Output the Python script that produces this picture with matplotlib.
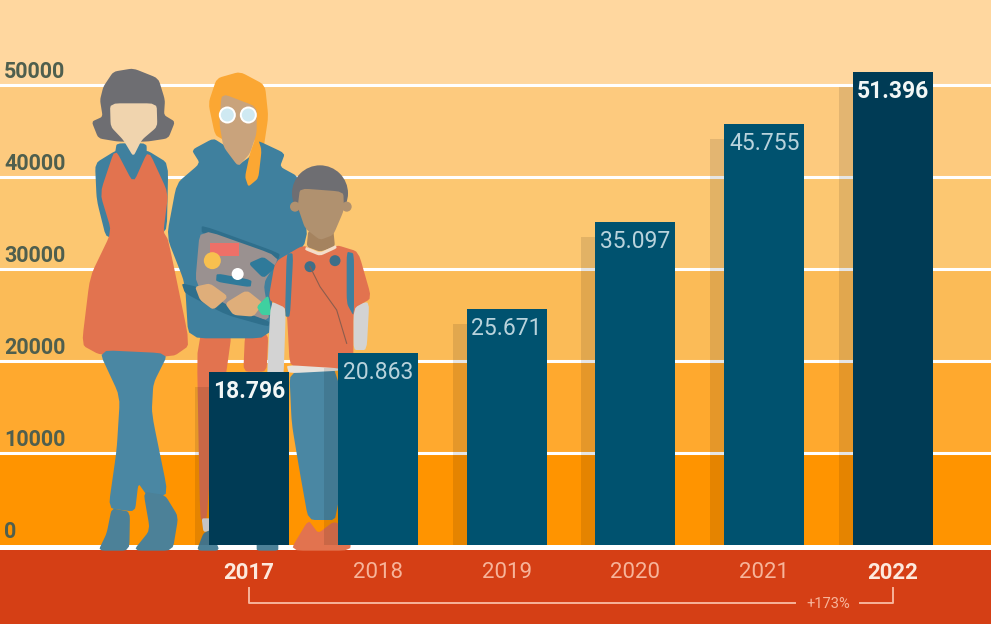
import matplotlib

matplotlib.use('Agg')
import matplotlib.pyplot as plt
from matplotlib.patches import Polygon, Circle, Ellipse, Rectangle
from matplotlib.transforms import Affine2D, blended_transform_factory

years = ['2017', '2018', '2019', '2020', '2021', '2022']
values = [18796, 20863, 25671, 35097, 45755, 51396]
value_labels = ['18.796', '20.863', '25.671', '35.097', '45.755', '51.396']
highlighted = ['2017', '2022']
y_ticks = [0, 10000, 20000, 30000, 40000, 50000]
band_colors = ['#ff9400', '#ffa92e', '#fbbb57', '#fcc771', '#fdca7e', '#ffd79f']
change_label = '+173%'

FONT = 'Roboto'
DARK_BAR = '#003b55'
BAR = '#00526f'
RED = '#d53f15'
PALE = '#f7b49a'
SKIN_LIGHT = '#f0d4ae'
SKIN_MID = '#c9a37c'
SKIN_DARK = '#b0916f'
HAIR = '#6e6e72'
BLUE = '#3f809e'
JEANS = '#4a87a3'
BOOT = '#4c8198'
ORANGE = '#e2734f'
UNIT = 108.66  # value per pixel

fig = plt.figure(figsize=(9.91, 6.24), dpi=100)
ax = fig.add_axes([0, 0, 1, 1])
ax.set_xlim((0 - 249) / 128.8, (991 - 249) / 128.8)
ax.set_ylim(-79 * UNIT, 545 * UNIT)
ax.axis('off')

# picture pixels, y going down
px = Affine2D().scale(1, -1).translate(0, 624)
x_data_y_px = blended_transform_factory(ax.transData, px)
x_px_y_data = blended_transform_factory(px, ax.transData)


def z1(pts):
    return [(x / 3, y / 3 + 50) for x, y in pts]


def z2(pts):
    return [(x / 3, y / 3 + 340) for x, y in pts]


def round_off(pts, rounds=2, cut=0.12):
    # cut the corners a little so the figures look less angular
    for _ in range(rounds):
        out = []
        for k in range(len(pts)):
            x0, y0 = pts[k]
            x1, y1 = pts[(k + 1) % len(pts)]
            out.append(((1 - cut) * x0 + cut * x1, (1 - cut) * y0 + cut * y1))
            out.append((cut * x0 + (1 - cut) * x1, cut * y0 + (1 - cut) * y1))
        pts = out
    return pts


def poly(pts, color, z=3):
    ax.add_patch(Polygon(round_off(pts), closed=True, fc=color, ec='none', transform=px, zorder=z))


def circ(x, y, r, color, z=3):
    ax.add_patch(Circle((x, y), r, fc=color, ec='none', transform=px, zorder=z))


# background bands and grid
edges = y_ticks + [ax.get_ylim()[1]]
for i, c in enumerate(band_colors):
    ax.axhspan(edges[i], edges[i + 1], color=c, lw=0, zorder=1)
ax.axhspan(ax.get_ylim()[0], -5 * UNIT, color=RED, lw=0, zorder=1)
ax.axhspan(-5 * UNIT, 0, color='white', lw=0, zorder=2)
for t in y_ticks[1:]:
    ax.axhline(t, color='white', lw=2.2, zorder=2)

for t in y_ticks:
    ax.text(4, t + 12.5 * UNIT, str(t), transform=x_px_y_data, ha='left', va='center', family=FONT,
            fontsize=15.5, fontweight='bold', color='#4f5f4e', zorder=6)

# left woman
poly(z1([(400, 55), (340, 65), (310, 110), (300, 150), (308, 200), (275, 215), (295, 265), (355, 275),
         (440, 275), (505, 265), (525, 215), (492, 195), (495, 150), (475, 85)]), HAIR)
poly(z1([(285, 340), (350, 300), (440, 300), (505, 340), (500, 560), (320, 570), (290, 450)]), BLUE)
poly(z1([(350, 280), (440, 280), (440, 330), (405, 400), (345, 310)]), BLUE)
poly(z1([(330, 160), (470, 160), (472, 230), (425, 270), (400, 320), (370, 270), (332, 230)]), SKIN_LIGHT)
poly(z1([(345, 295), (400, 400), (445, 300), (505, 430), (490, 545), (505, 570), (570, 885), (520, 920),
         (300, 915), (245, 885), (270, 680), (335, 545), (300, 430)]), ORANGE)
poly(z2([(295, 30), (505, 40), (460, 130), (455, 220), (505, 465), (440, 465), (415, 430), (405, 515),
         (325, 505), (350, 330), (360, 170)]), JEANS)
poly(z2([(335, 505), (390, 515), (388, 632), (295, 632), (320, 580)]), BOOT)
poly(z2([(430, 455), (495, 465), (535, 530), (518, 632), (400, 632), (450, 570)]), BOOT)

# middle woman
poly(z2([(590, -20), (695, -20), (680, 90), (630, 400), (620, 540), (600, 540)]), ORANGE)
poly(z2([(735, -20), (805, -20), (800, 95), (730, 95)]), ORANGE)
poly(z2([(605, 535), (632, 535), (632, 575), (610, 575)]), '#dcdcdc')
poly(z2([(590, 632), (610, 580), (630, 570), (660, 632)]), BOOT)
poly(z2([(770, 610), (835, 610), (835, 632), (770, 632)]), BOOT)
poly(z1([(720, 65), (650, 85), (625, 160), (645, 255), (680, 275), (770, 260), (740, 415), (780, 385),
         (790, 300), (805, 200), (795, 105)]), '#fba733')
poly(z1([(575, 300), (640, 265), (680, 290), (715, 345), (750, 320), (770, 270), (855, 310), (840, 350),
         (895, 380), (925, 570), (820, 700), (810, 865), (565, 865), (555, 700), (500, 560), (530, 400),
         (600, 340)]), BLUE)
poly(z1([(665, 130), (770, 170), (770, 250), (750, 310), (715, 350), (670, 290), (658, 220)]), SKIN_MID)
poly(z1([(770, 255), (785, 300), (775, 385), (745, 410), (735, 380), (750, 310)]), '#fba733')
for gx, gy in z1([(682, 195), (745, 195)]):
    circ(gx, gy, 8.5, 'white')
    circ(gx, gy, 6.5, '#cfe9f2')
poly(z1([(605, 525), (840, 610), (835, 630), (605, 550)]), '#2f6f8c')
poly(z1([(600, 535), (840, 620), (790, 700), (810, 815), (690, 775), (585, 705)]), '#9a9190')
poly(z1([(545, 700), (590, 710), (690, 770), (810, 815), (805, 830), (680, 795), (555, 730)]), '#2f6f8c')
ax.add_patch(Rectangle(z1([(630, 580)])[0], 88 / 3, 38 / 3, fc='#ee7068', ec='none', transform=px, zorder=3))
circ(*z1([(637, 632)])[0], 8.5, '#f8c04f')
poly(z1([(650, 670), (755, 690), (752, 712), (648, 695)]), '#2f7a9a')
poly(z1([(745, 640), (790, 620), (830, 650), (790, 685)]), '#2f7a9a')
circ(*z1([(713, 672)])[0], 6, 'white')
poly(z1([(585, 710), (630, 700), (685, 740), (640, 780), (600, 750)]), '#dfae7a')
poly(z1([(675, 760), (740, 720), (790, 760), (760, 800), (700, 795)]), '#dfae7a')
poly(z1([(770, 770), (805, 735), (815, 795), (785, 795)]), '#3fd0a0')

# boy
poly(z1([(812, 755), (858, 765), (850, 1000), (800, 1000)]), '#d3d3d3')
poly(z1([(1060, 765), (1108, 755), (1100, 900), (1060, 900)]), '#d3d3d3')
poly(z1([(910, 585), (960, 612), (1010, 585), (1075, 605), (1115, 745), (1060, 775), (1060, 960), (870, 960),
         (860, 775), (805, 750), (825, 635)]), ORANGE)
poly(z1([(860, 610), (880, 610), (870, 800), (855, 800)]), BLUE)
poly(z1([(1040, 605), (1062, 610), (1062, 800), (1040, 760)]), BLUE)
hx, hy = z1([(960, 430)])[0]
ax.add_patch(Ellipse((hx, hy), 56, 56, fc=HAIR, ec='none', transform=px, zorder=3))
for ex, ey in z1([(885, 470), (1040, 470)]):
    circ(ex, ey, 5, SKIN_DARK)
poly(z1([(925, 540), (1000, 540), (1005, 590), (960, 605), (920, 590)]), '#a5835f')
poly(z1([(900, 415), (1030, 425), (1032, 480), (1000, 555), (960, 570), (915, 535), (893, 470)]), SKIN_DARK)
poly(z1([(918, 590), (960, 608), (1008, 585), (1010, 595), (960, 618), (915, 600)]), '#f3ddc9')
for ex, ey in z1([(930, 650), (1005, 632)]):
    circ(ex, ey, 5.5, '#3e6f88')
cx, cy = zip(*z1([(930, 650), (960, 710), (1010, 780), (1040, 880)]))
ax.plot(cx, cy, color='#8c5d4d', lw=0.8, transform=px, zorder=3)
poly(z2([(868, 95), (1020, 85), (1015, 540), (925, 540), (900, 400), (875, 250)]), JEANS)
poly(z2([(860, 75), (1020, 85), (1020, 92), (866, 100)]), '#e6e2dc')
poly(z2([(870, 632), (925, 540), (955, 580), (1000, 545), (1040, 560), (1055, 632)]), ORANGE)

# bars with their offset shadows
for i, (year, value, label) in enumerate(zip(years, values, value_labels)):
    strong = year in highlighted
    ax.add_patch(Rectangle((i - 0.31 - 14 / 128.8, 0), 14 / 128.8, value - 15 * UNIT, fc='black',
                           alpha=0.10, ec='none', zorder=4))
    ax.bar(i, value, width=80 / 128.8, color=DARK_BAR if strong else BAR, zorder=4)
    ax.text(i, value - 19.5 * UNIT, label, ha='center', va='center', family=FONT, fontsize=16.5,
            fontweight='bold' if strong else 'normal', color='#f3f7f6' if strong else '#b9d3dc', zorder=5)
    ax.text(i, 573, year, transform=x_data_y_px, ha='center', va='center', family=FONT, fontsize=16,
            fontweight='bold' if strong else 'normal', color='#fde9dd' if strong else PALE, zorder=5)

# 2017 to 2022 bracket
ax.plot([0, 0, 795 / 128.8 - 249 / 128.8], [588, 603, 603], color=PALE, lw=1.4, transform=x_data_y_px, zorder=5)
ax.plot([860 / 128.8 - 249 / 128.8, 5, 5], [603, 603, 588], color=PALE, lw=1.4, transform=x_data_y_px, zorder=5)
ax.text(828, 604, change_label, transform=px, ha='center', va='center', family=FONT, fontsize=10.5,
        color=PALE, zorder=5)

fig.savefig('out.png', dpi=100)
